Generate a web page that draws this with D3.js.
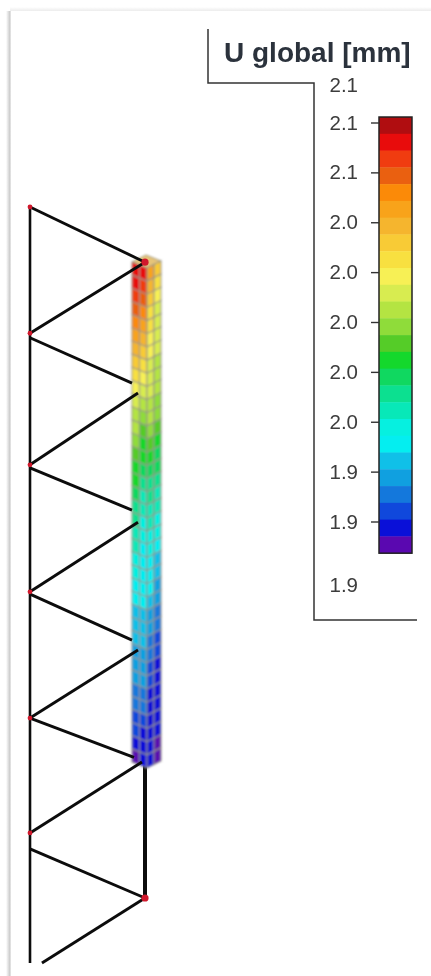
<!DOCTYPE html>
<html><head><meta charset="utf-8">
<script src="https://cdnjs.cloudflare.com/ajax/libs/d3/7.8.5/d3.min.js"></script>
<style>html,body{margin:0;padding:0;background:#fff;overflow:hidden}
svg{display:block;filter:blur(0.6px)}
text{font-family:"Liberation Sans",Arial,sans-serif}</style></head><body>
<script>
const titleText = "U global [mm]";
const bandColors = ["#b00d10","#e80c0c","#f03c10","#ea6010","#fb8a08","#f8a31a","#f5b52e","#f8cb36","#f8e040","#f7f055","#d8ec50","#b4e442","#8fdc3a","#55cc28","#14d82c","#10d860","#0ce090","#08e8b8","#06f0e0","#04eef0","#10c0e8","#10a0e0","#1478dc","#1048dc","#0a10d8","#5a08b0"];
const legendTicks = [2.08,2.06,2.04,2.02,2.00,1.98,1.96,1.94,1.92];
const legendMax = 2.095, legendMin = 1.8945;
const barTop = 2.0822, barBottom = 1.9073;
// displacement per mesh row on each strip of the two visible faces, top to bottom
const stripA = [2.075,2.072,2.065,2.058,2.051,2.045,2.038,2.031,2.024,2.018,2.011,2.008,2.004,1.997,1.991,1.984,1.984,1.977,1.971,1.971,1.964,1.964,1.957,1.957,1.950,1.950,1.944,1.944,1.944,1.937,1.937,1.937,1.930,1.930,1.923,1.923,1.917,1.910];
const stripB = [2.072,2.065,2.058,2.051,2.045,2.038,2.031,2.024,2.018,2.011,2.004,1.997,1.991,1.984,1.984,1.977,1.971,1.964,1.964,1.957,1.957,1.950,1.950,1.950,1.950,1.950,1.944,1.944,1.944,1.937,1.937,1.937,1.930,1.930,1.923,1.917,1.917,1.917];
const stripC = [2.045,2.038,2.031,2.024,2.024,2.018,2.018,2.011,2.011,2.011,2.004,2.004,1.997,1.991,1.984,1.977,1.971,1.971,1.964,1.964,1.957,1.957,1.950,1.950,1.950,1.944,1.937,1.937,1.930,1.930,1.923,1.923,1.917,1.917,1.917,1.917,1.917,1.917];
const stripD = [2.031,2.024,2.018,2.011,2.011,2.011,2.011,2.004,2.004,2.004,1.997,1.997,1.991,1.984,1.977,1.977,1.971,1.964,1.964,1.957,1.957,1.950,1.944,1.944,1.937,1.937,1.930,1.930,1.923,1.923,1.917,1.917,1.917,1.917,1.917,1.917,1.910,1.910];
// truss model: x is 0 (outer chord) to 1 (inner chord), z is height in model units
const chordSegments = [[0,100,0,0],[1,26.2,1,8.6]];
const diagonalSegments = [[0,100,1,92.7],[1,92.7,0,83.3],[0,82.7,.887,76.7],[.939,75.4,0,65.9],[0,65.5,.887,59.9],[.939,58.3,0,49.1],[0,48.8,.887,42.7],[.939,41.4,0,32.4],[0,32.4,.904,27.2],[.974,26.6,0,17.2],[0,15.1,1,8.6],[1,8.6,.104,0]];
const nodes = [[0,100],[0,83.3],[0,65.9],[0,49.1],[0,32.4],[0,17.2],[1,92.7],[1,8.6]];

const W=431,H=976;
const svg=d3.select("body").append("svg").attr("width",W).attr("height",H);
const defs=svg.append("defs");
const grad=defs.append("linearGradient").attr("id","edge");
grad.append("stop").attr("offset","0").attr("stop-color","#fff");
grad.append("stop").attr("offset","0.7").attr("stop-color","#cfcfcf");
grad.append("stop").attr("offset","1").attr("stop-color","#e8e8e8");
const gradT=defs.append("linearGradient").attr("id","edgeT").attr("x2",0).attr("y2",1);
gradT.append("stop").attr("offset","0").attr("stop-color","#fff");
gradT.append("stop").attr("offset","1").attr("stop-color","#ececec");
defs.append("filter").attr("id","soft").append("feGaussianBlur").attr("stdDeviation",0.9);
svg.append("rect").attr("x",6).attr("y",11).attr("width",5).attr("height",H).attr("fill","url(#edge)");
svg.append("rect").attr("x",10).attr("y",7).attr("width",W).attr("height",4).attr("fill","url(#edgeT)");

// frame
svg.append("path").attr("d",d3.line()([[208,29],[208,83],[314,83],[314,620],[417,620]])).attr("fill","none").attr("stroke","#333").attr("stroke-width",1.5);
svg.append("text").attr("x",224).attr("y",62).attr("font-size",28).attr("font-weight","bold").attr("fill","#2b323c").text(titleText);

// legend
const yL=d3.scaleLinear().domain([2.08,1.92]).range([122.5,521.5]);
const n=bandColors.length;
const bandH=(yL(barBottom)-yL(barTop))/n;
const bandValues=d3.range(n).map(i=>barTop-(i+.5)*(barTop-barBottom)/n);
const color=d3.scaleQuantize().domain([barBottom,barTop]).range(bandColors.slice().reverse());
const lg=svg.append("g");
lg.selectAll("rect").data(bandValues).join("rect")
 .attr("x",379).attr("width",33).attr("y",d=>yL(d)-bandH/2).attr("height",bandH+.4).attr("fill",d=>color(d));
lg.append("rect").attr("x",379).attr("width",33).attr("y",yL(barTop)).attr("height",yL(barBottom)-yL(barTop)).attr("fill","none").attr("stroke","#222").attr("stroke-width",1.5);
const axis=d3.axisLeft(yL).tickValues(legendTicks).tickFormat(d3.format(".1f")).tickSize(8).tickPadding(13);
const ax=svg.append("g").attr("transform","translate(379,0)").call(axis);
ax.select(".domain").remove();
ax.selectAll("line").attr("stroke","#333").attr("stroke-width",1.4);
ax.selectAll("text").attr("font-size",20.5).attr("fill","#3c3c3c").attr("font-family",'"Liberation Sans",Arial,sans-serif');
[legendMax,legendMin].forEach(v=>svg.append("text").attr("x",358).attr("y",yL(v)).attr("dy",".32em").attr("text-anchor","end").attr("font-size",20.5).attr("fill","#3c3c3c").text(d3.format(".1f")(v)));

// truss scales
const xT=d3.scaleLinear().domain([0,1]).range([30,145]);
const zT=d3.scaleLinear().domain([0,100]).range([963,207]);
const truss=(parent,segs,w)=>parent.selectAll(null).data(segs).join("line")
 .attr("x1",d=>xT(d[0])).attr("y1",d=>zT(d[1])).attr("x2",d=>xT(d[2])).attr("y2",d=>zT(d[3]))
 .attr("stroke","#0c0c0c").attr("stroke-width",w);
truss(svg.append("g"),[chordSegments[0]],2.6);
truss(svg.append("g"),[chordSegments[1]],4);

// column mesh
const strips=[stripA,stripB,stripC,stripD];
const rows=stripA.length;
const rowY=d3.scaleLinear().domain([0,rows]).range([0,500]);
const stripX=d3.scaleLinear().domain([0,2,4]).range([132,147,161]);
const shear=d3.scaleLinear().domain([0,2,4]).range([262,268,261]);
const cells=[];
strips.forEach((s,c)=>s.forEach((v,r)=>cells.push({c,r,v})));
const col=svg.append("g").attr("filter","url(#soft)");
const topFace=[[stripX(0),shear(0)],[146,255],[stripX(4),shear(4)],[stripX(2),shear(2)]];
col.append("path").attr("d",d3.line()(topFace)+"Z").attr("fill","#e6c478").attr("stroke","#a09a80");
col.selectAll("path.cell").data(cells).join("path").attr("class","cell")
 .attr("d",d=>d3.line()([
   [stripX(d.c),shear(d.c)+rowY(d.r)],[stripX(d.c+1),shear(d.c+1)+rowY(d.r)],
   [stripX(d.c+1),shear(d.c+1)+rowY(d.r+1)],[stripX(d.c),shear(d.c)+rowY(d.r+1)]])+"Z")
 .attr("fill",d=>color(d.v)).attr("stroke","#96958a").attr("stroke-width",1.2).attr("stroke-opacity",.85);

// joints and bracing in front of the column
truss(svg.append("g"),diagonalSegments,2.9);
svg.append("g").selectAll("circle").data(nodes).join("circle")
 .attr("cx",d=>xT(d[0])).attr("cy",d=>zT(d[1])).attr("r",d=>d[0]?3.6:2.4).attr("fill","#d0182c");
</script></body></html>
